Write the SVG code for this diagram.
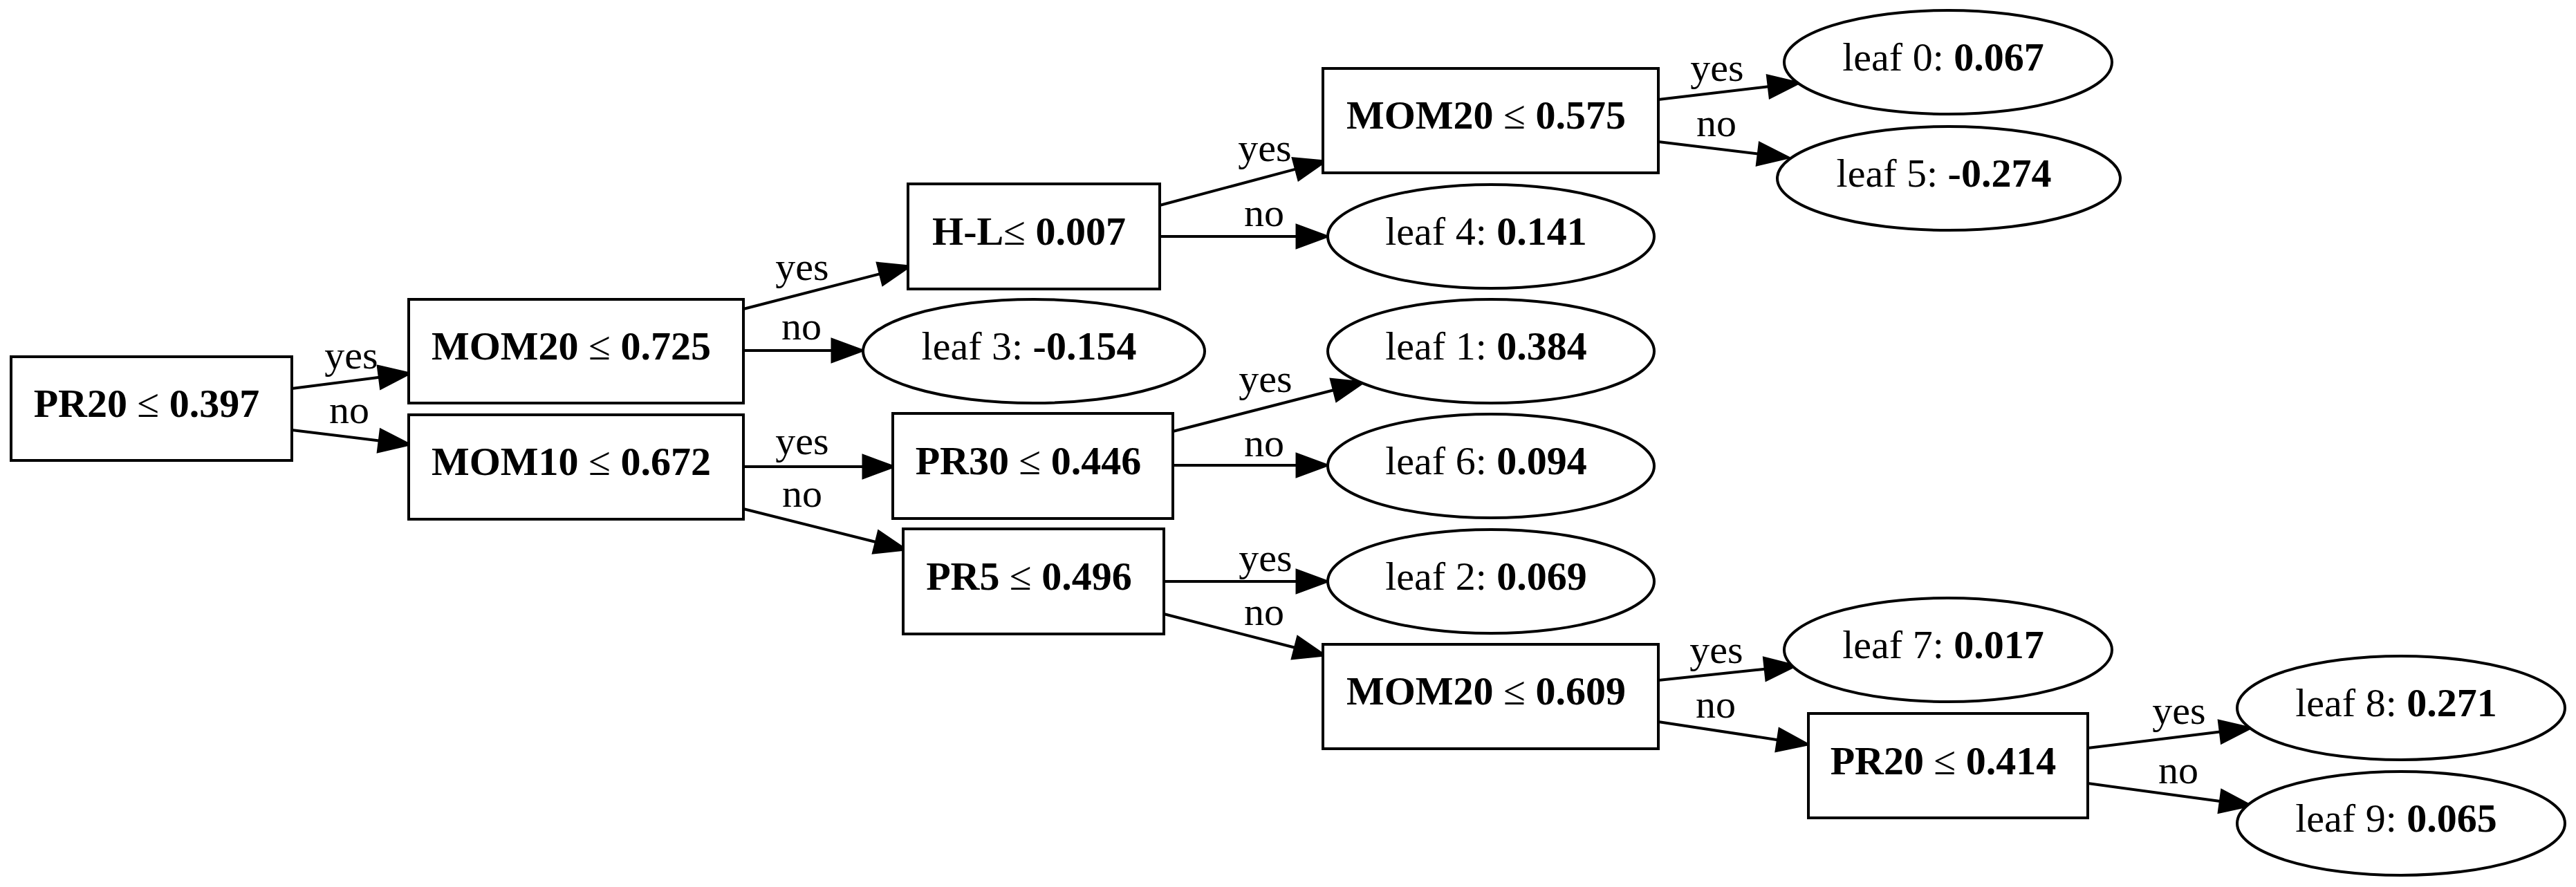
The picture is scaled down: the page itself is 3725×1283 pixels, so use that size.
<svg xmlns="http://www.w3.org/2000/svg" width="3725" height="1283" viewBox="0 0 3725 1283">
<defs>
<style>
text{font-family:"Liberation Serif","Times New Roman",serif;font-size:58px;fill:#000}
.nl{text-anchor:middle}
.b{font-weight:bold}
.el{text-anchor:middle}
.box{fill:#fff;stroke:#000;stroke-width:4}
.leaf{fill:#fff;stroke:#000;stroke-width:4}
.edge{stroke:#000;stroke-width:4;fill:none;marker-end:url(#ah)}
</style>
<marker id="ah" markerUnits="userSpaceOnUse" viewBox="0 -22 52 44" refX="0" refY="0" markerWidth="52" markerHeight="44" orient="auto" overflow="visible">
<path d="M0,-16.5 L45,0 L0,16.5 z" fill="#000" stroke="#000" stroke-width="3"/>
</marker>
</defs>
<rect width="3725" height="1283" fill="#fff"/>

<g id="connectors">
<line class="edge" x1="422" y1="562" x2="548.4" y2="545.7"/>
<text class="el" x="508" y="533">yes</text>
<line class="edge" x1="422" y1="622" x2="548.3" y2="637.5"/>
<text class="el" x="505" y="612">no</text>
<line class="edge" x1="1075" y1="507" x2="1203" y2="507"/>
<text class="el" x="1159" y="491">no</text>
<line class="edge" x1="1075" y1="447" x2="1272.4" y2="396.2"/>
<text class="el" x="1160" y="405">yes</text>
<line class="edge" x1="1075" y1="675" x2="1248" y2="675"/>
<text class="el" x="1160" y="657">yes</text>
<line class="edge" x1="1075" y1="736" x2="1266.4" y2="784"/>
<text class="el" x="1160" y="733">no</text>
<line class="edge" x1="1677" y1="297" x2="1873.5" y2="244.6"/>
<text class="el" x="1829" y="233">yes</text>
<line class="edge" x1="1677" y1="342" x2="1875" y2="342"/>
<text class="el" x="1828" y="327">no</text>
<line class="edge" x1="1696" y1="624" x2="1928.4" y2="564.2"/>
<text class="el" x="1830" y="567">yes</text>
<line class="edge" x1="1696" y1="673" x2="1875" y2="673"/>
<text class="el" x="1828" y="660">no</text>
<line class="edge" x1="1683" y1="841" x2="1875" y2="841"/>
<text class="el" x="1830" y="826">yes</text>
<line class="edge" x1="1683" y1="888" x2="1872.4" y2="936.8"/>
<text class="el" x="1828" y="904">no</text>
<line class="edge" x1="2398" y1="144" x2="2557.3" y2="125.3"/>
<text class="el" x="2483" y="117">yes</text>
<line class="edge" x1="2398" y1="205" x2="2542.3" y2="222.6"/>
<text class="el" x="2482" y="197">no</text>
<line class="edge" x1="2398" y1="984" x2="2552.2" y2="967.7"/>
<text class="el" x="2482" y="959">yes</text>
<line class="edge" x1="2398" y1="1044" x2="2570.5" y2="1070.2"/>
<text class="el" x="2481" y="1038">no</text>
<line class="edge" x1="3019" y1="1082" x2="3210.3" y2="1058.5"/>
<text class="el" x="3151" y="1047">yes</text>
<line class="edge" x1="3019" y1="1133" x2="3210.4" y2="1159"/>
<text class="el" x="3150" y="1133">no</text>
</g>

<g id="node_pr20_0397">
<rect class="box" x="16" y="516" width="406" height="150"/>
<text class="nl" x="212" y="603"><tspan class="b">PR20</tspan> ≤ <tspan class="b">0.397</tspan></text>
</g>
<g id="node_mom20_0725">
<rect class="box" x="591" y="433" width="484" height="150"/>
<text class="nl" x="826" y="520"><tspan class="b">MOM20</tspan> ≤ <tspan class="b">0.725</tspan></text>
</g>
<g id="node_mom10_0672">
<rect class="box" x="591" y="600" width="484" height="151"/>
<text class="nl" x="826" y="687"><tspan class="b">MOM10</tspan> ≤ <tspan class="b">0.672</tspan></text>
</g>
<g id="node_hl_0007">
<rect class="box" x="1313" y="266" width="364" height="152"/>
<text class="nl" x="1488" y="354"><tspan class="b">H-L</tspan>≤ <tspan class="b">0.007</tspan></text>
</g>
<g id="node_leaf3">
<ellipse class="leaf" cx="1495" cy="508" rx="247" ry="75"/>
<text class="nl" x="1488" y="520">leaf 3: <tspan class="b">-0.154</tspan></text>
</g>
<g id="node_pr30_0446">
<rect class="box" x="1291" y="598" width="405" height="152"/>
<text class="nl" x="1487" y="686"><tspan class="b">PR30</tspan> ≤ <tspan class="b">0.446</tspan></text>
</g>
<g id="node_pr5_0496">
<rect class="box" x="1306" y="765" width="377" height="152"/>
<text class="nl" x="1488" y="853"><tspan class="b">PR5</tspan> ≤ <tspan class="b">0.496</tspan></text>
</g>
<g id="node_mom20_0575">
<rect class="box" x="1913" y="99" width="485" height="151"/>
<text class="nl" x="2149" y="186"><tspan class="b">MOM20</tspan> ≤ <tspan class="b">0.575</tspan></text>
</g>
<g id="node_leaf4">
<ellipse class="leaf" cx="2156" cy="342" rx="236" ry="75"/>
<text class="nl" x="2149" y="354">leaf 4: <tspan class="b">0.141</tspan></text>
</g>
<g id="node_leaf1">
<ellipse class="leaf" cx="2156" cy="508" rx="236" ry="75"/>
<text class="nl" x="2149" y="520">leaf 1: <tspan class="b">0.384</tspan></text>
</g>
<g id="node_leaf6">
<ellipse class="leaf" cx="2156" cy="674" rx="236" ry="75"/>
<text class="nl" x="2149" y="686">leaf 6: <tspan class="b">0.094</tspan></text>
</g>
<g id="node_leaf2">
<ellipse class="leaf" cx="2156" cy="841" rx="236" ry="75"/>
<text class="nl" x="2149" y="853">leaf 2: <tspan class="b">0.069</tspan></text>
</g>
<g id="node_mom20_0609">
<rect class="box" x="1913" y="932" width="485" height="151"/>
<text class="nl" x="2149" y="1019"><tspan class="b">MOM20</tspan> ≤ <tspan class="b">0.609</tspan></text>
</g>
<g id="node_leaf0">
<ellipse class="leaf" cx="2817" cy="90" rx="237" ry="75"/>
<text class="nl" x="2810" y="102">leaf 0: <tspan class="b">0.067</tspan></text>
</g>
<g id="node_leaf5">
<ellipse class="leaf" cx="2818" cy="258" rx="248" ry="75"/>
<text class="nl" x="2811" y="270">leaf 5: <tspan class="b">-0.274</tspan></text>
</g>
<g id="node_leaf7">
<ellipse class="leaf" cx="2817" cy="940" rx="237" ry="75"/>
<text class="nl" x="2810" y="952">leaf 7: <tspan class="b">0.017</tspan></text>
</g>
<g id="node_pr20_0414">
<rect class="box" x="2615" y="1032" width="404" height="151"/>
<text class="nl" x="2810" y="1120"><tspan class="b">PR20</tspan> ≤ <tspan class="b">0.414</tspan></text>
</g>
<g id="node_leaf8">
<ellipse class="leaf" cx="3472" cy="1024" rx="237" ry="75"/>
<text class="nl" x="3465" y="1036">leaf 8: <tspan class="b">0.271</tspan></text>
</g>
<g id="node_leaf9">
<ellipse class="leaf" cx="3472" cy="1191" rx="237" ry="75"/>
<text class="nl" x="3465" y="1203">leaf 9: <tspan class="b">0.065</tspan></text>
</g>
</svg>
